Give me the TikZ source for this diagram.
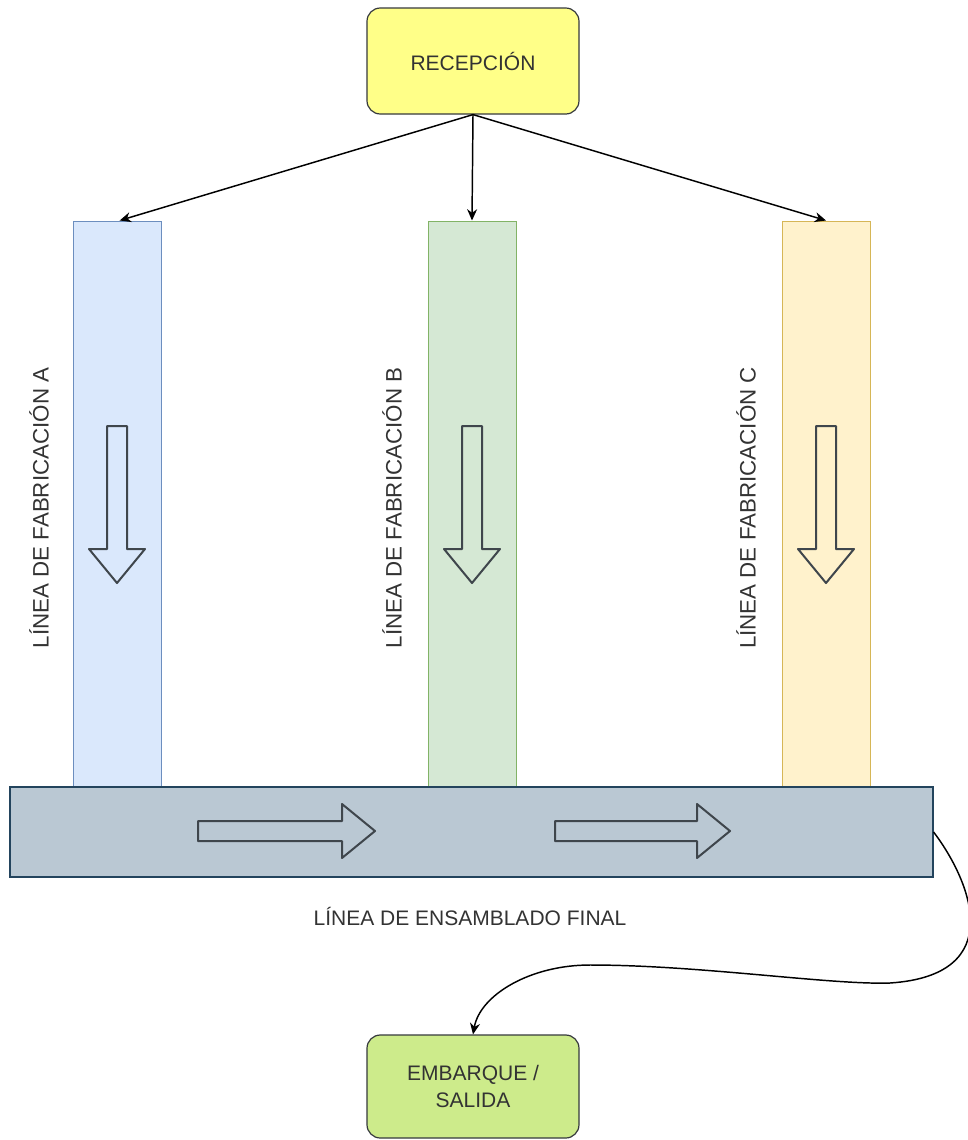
\documentclass[tikz,border=0pt]{standalone}
\usepackage{fontspec}
\setmainfont{Liberation Sans}
\usetikzlibrary{arrows.meta}
\definecolor{txt}{HTML}{333333}
\definecolor{boxline}{HTML}{36393D}
\definecolor{recfill}{HTML}{FFFF88}
\definecolor{embfill}{HTML}{CDEB8B}
\definecolor{afill}{HTML}{DAE8FC}\definecolor{aline}{HTML}{6C8EBF}
\definecolor{bfill}{HTML}{D5E8D4}\definecolor{bline}{HTML}{82B366}
\definecolor{cfill}{HTML}{FFF2CC}\definecolor{cline}{HTML}{D6B656}
\definecolor{barfill}{HTML}{BAC8D3}\definecolor{barline}{HTML}{23445D}
\definecolor{hollow}{HTML}{3F464C}
\tikzset{
  lbl/.style={text=txt,font=\fontsize{15.75}{20}\selectfont,inner sep=0pt,align=center},
  vlbl/.style={lbl,font=\fontsize{16.75}{20}\selectfont,rotate=90},
  roundbox/.style={draw=boxline,line width=0.9pt,rounded corners=10pt,minimum width=159pt,lbl},
  column/.style={line width=0.75pt,minimum width=66pt,minimum height=424.5pt,inner sep=0pt},
  conn/.style={draw=black,line width=1.1pt,-{Stealth[length=8.5pt,width=7.5pt]}},
  hollowarrow/.style={draw=hollow,line width=1.5pt,line join=round},
}
\begin{document}
\begin{tikzpicture}[x=0.75pt,y=-0.75pt]
\useasboundingbox (0,0) rectangle (968,1140);
\fill[white] (0,0) rectangle (968,1140);
% top box
\node[roundbox,fill=recfill,minimum height=79.5pt] (rec) at (473,61) {RECEPCIÓN};
% columns
\node[column,draw=aline,fill=afill] (colA) at (117,504) {};
\node[column,draw=bline,fill=bfill] (colB) at (472,504) {};
\node[column,draw=cline,fill=cfill] (colC) at (826,504) {};
% column labels
\node[vlbl] (labA) at (39,508) {LÍNEA DE FABRICACIÓN A};
\node[vlbl] (labB) at (392,508) {LÍNEA DE FABRICACIÓN B};
\node[vlbl] (labC) at (746,508) {LÍNEA DE FABRICACIÓN C};
% down hollow arrows
\foreach \cx in {117,472,826}{
  \draw[hollowarrow] (\cx-10,426) -- (\cx+10,426) -- (\cx+10,549) -- (\cx+28,549)
    -- (\cx,583) -- (\cx-28,549) -- (\cx-10,549) -- cycle;
}
% bar
\node[draw=barline,fill=barfill,line width=0.9pt,minimum width=692.25pt,minimum height=67.5pt,inner sep=0pt] (bar) at (471.5,832) {};
% right hollow arrows
\foreach \l/\b/\t in {198/342/375,555/697/730}{
  \draw[hollowarrow] (\l,821) -- (\b,821) -- (\b,804) -- (\t,831) -- (\b,858)
    -- (\b,841) -- (\l,841) -- cycle;
}
\node[lbl] (labBar) at (470,916) {LÍNEA DE ENSAMBLADO FINAL};
% bottom box
\node[roundbox,fill=embfill,minimum height=77.25pt] (emb) at (473,1086.5) {EMBARQUE /\\SALIDA};
% connectors
\draw[conn] (rec.south) -- ([xshift=2pt]colA.north);
\draw[conn] (rec.south) -- (colB.north);
\draw[conn] (rec.south) -- (colC.north);
\draw[conn] (bar.east) .. controls (970,880) and (1010,975) .. (890,983)
  .. controls (830,985) and (700,965) .. (590,965)
  .. controls (530,965) and (480,995) .. (emb.north);
\end{tikzpicture}
\end{document}
